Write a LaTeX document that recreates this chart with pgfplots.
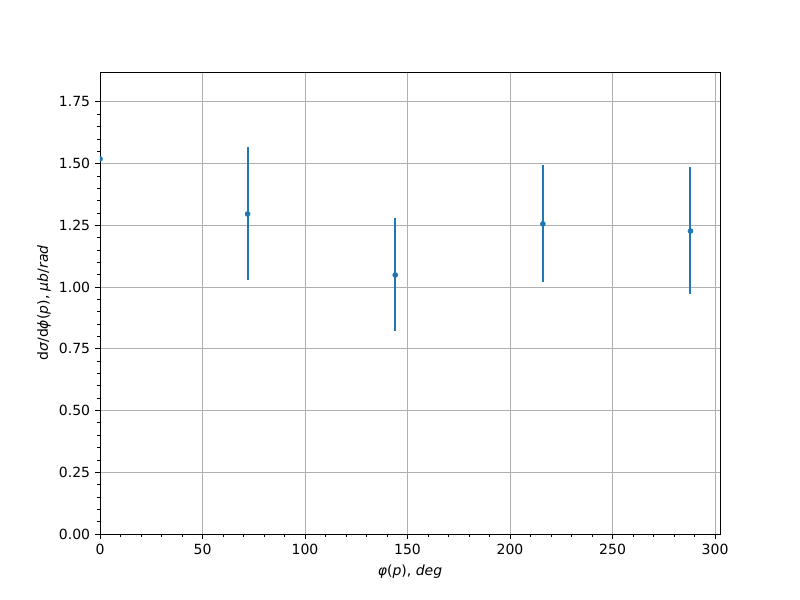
\documentclass[border=0pt]{standalone}
\usepackage{fontspec}
\setmainfont{DejaVu Sans}
\usepackage{pgfplots}
\pgfplotsset{compat=1.18}
\definecolor{mplblue}{HTML}{1F77B4}
\definecolor{mplgrid}{HTML}{B0B0B0}

\pgfplotstableread{
x    y     ep    em
0    1.519 0     0
72   1.296 0.271 0.267
144  1.049 0.231 0.227
216  1.256 0.238 0.235
288  1.227 0.259 0.255
}\crosssec

\begin{document}
\fontsize{7}{8.4}\selectfont
\begin{tikzpicture}
\path[use as bounding box] (0pt,0pt) rectangle (400pt,300pt);
\begin{axis}[
    at={(50pt,33pt)}, anchor=south west,
    width=310pt, height=231pt, scale only axis,
    xmin=0, xmax=302.4, ymin=0, ymax=1.871,
    xtick={0,50,...,300},
    ytick={0,0.25,...,1.75},
    minor x tick num=4,
    minor y tick num=4,
    xtick pos=bottom, ytick pos=left,
    tick align=outside,
    major tick length=2.43pt, minor tick length=1.39pt,
    tick style={black, line width=0.4pt},
    axis line style={black, line width=0.45pt},
    grid=major,
    major grid style={mplgrid, line width=0.4pt},
    /pgf/number format/assume math mode=true,
    yticklabel style={/pgf/number format/.cd, fixed, fixed zerofill, precision=2},
    xticklabel style={/pgf/number format/.cd, fixed, precision=0},
    tick label style={font=\fontsize{7}{8.4}\selectfont},
    xlabel={\textit{φ}(\textit{p}), \textit{deg}},
    ylabel={d\textit{σ}/d\textit{ϕ}(\textit{p}), \textit{μb}/\textit{rad}},
    xlabel style={at={(axis description cs:0.5,0)}, anchor=center, yshift=-19pt},
    ylabel style={at={(axis description cs:0,0.5)}, anchor=center, yshift=28pt},
    clip marker paths=true,
]
\addplot[only marks, mark=*, mark size=1.2pt, color=mplblue,
    error bars/.cd, y dir=both, y explicit,
    error bar style={line width=1pt, mplblue}, error mark=none]
    table[x=x, y=y, y error plus=ep, y error minus=em] {\crosssec};
\end{axis}
\end{tikzpicture}
\end{document}
